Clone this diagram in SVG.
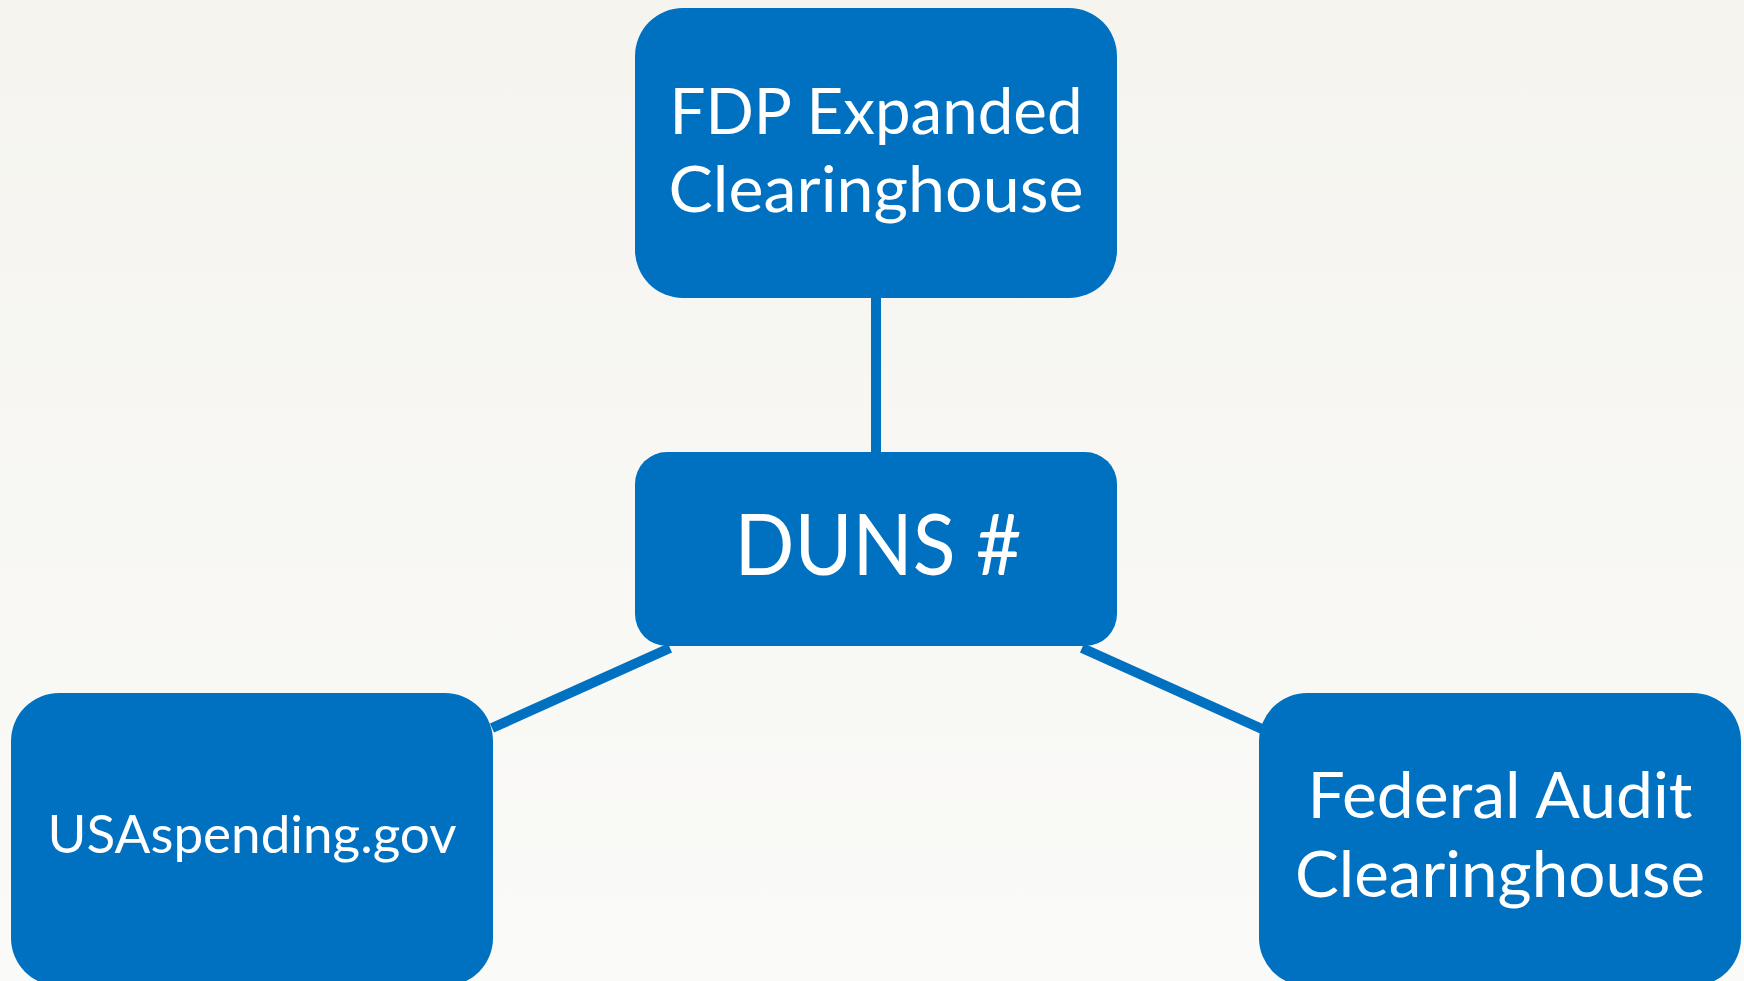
<svg xmlns="http://www.w3.org/2000/svg" width="1744" height="981" viewBox="0 0 1744 981">
<defs>
<linearGradient id="bg" x1="0" y1="0" x2="0" y2="1">
<stop offset="0" stop-color="#f5f4ef"/>
<stop offset="1" stop-color="#fafaf8"/>
</linearGradient>
<style>
.box{fill:#0070c0;}
.lbl{fill:#ffffff;font-family:Lato,"Open Sans","Noto Sans","Liberation Sans",sans-serif;text-anchor:middle;}
.conn{stroke:#0070c0;stroke-width:10;fill:none;}
</style>
</defs>
<rect x="0" y="0" width="1744" height="981" fill="url(#bg)"/>
<g id="connectors">
<line class="conn" x1="876" y1="296" x2="876" y2="454"/>
<line class="conn" x1="670" y1="648" x2="492" y2="728"/>
<line class="conn" x1="1082" y1="648" x2="1262" y2="729"/>
</g>
<g id="node-fdp">
<rect class="box" x="635" y="8" width="482" height="290" rx="48"/>
<text class="lbl" x="876" y="134" font-size="63" textLength="413" lengthAdjust="spacingAndGlyphs">FDP Expanded</text>
<text class="lbl" x="876" y="212" font-size="63" textLength="415" lengthAdjust="spacingAndGlyphs">Clearinghouse</text>
</g>
<g id="node-duns">
<rect class="box" x="635" y="452" width="482" height="194" rx="32"/>
<text class="lbl" x="878" y="575" font-size="86" textLength="287" lengthAdjust="spacingAndGlyphs">DUNS #</text>
</g>
<g id="node-usaspending">
<rect class="box" x="11" y="693" width="482" height="293" rx="48"/>
<text class="lbl" x="252" y="853" font-size="53" textLength="409" lengthAdjust="spacingAndGlyphs">USAspending.gov</text>
</g>
<g id="node-fac">
<rect class="box" x="1259" y="693" width="482" height="293" rx="48"/>
<text class="lbl" x="1500" y="818" font-size="63" textLength="385" lengthAdjust="spacingAndGlyphs">Federal Audit</text>
<text class="lbl" x="1500" y="897" font-size="63" textLength="410" lengthAdjust="spacingAndGlyphs">Clearinghouse</text>
</g>
</svg>
